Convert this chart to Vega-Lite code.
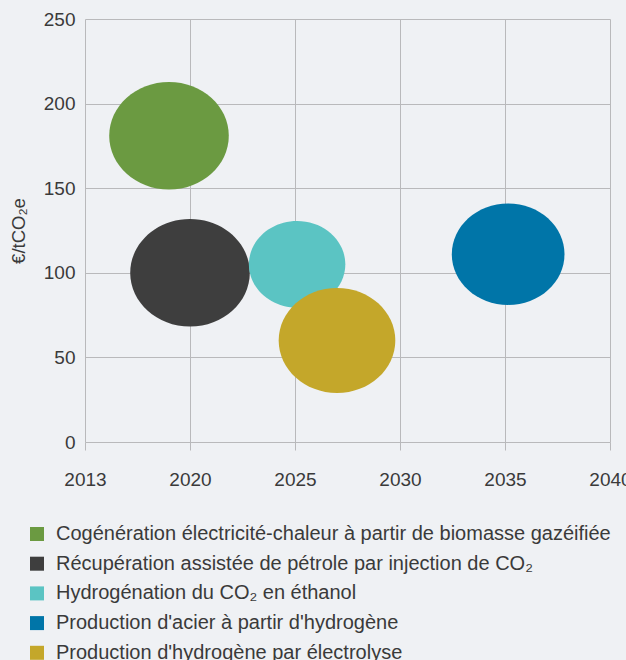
{
  "$schema": "https://vega.github.io/schema/vega-lite/v6.json",
  "width": 525,
  "height": 423,
  "autosize": {"type": "none"},
  "padding": {"left": 85, "top": 19, "right": 16, "bottom": 218},
  "background": "#eff1f4",
  "config": {
    "font": "Liberation Sans",
    "view": {"stroke": null},
    "axis": {
      "labelFont": "Liberation Sans",
      "labelFontSize": 19,
      "labelColor": "#3a3a3a",
      "labelFlush": false,
      "gridColor": "#b9b9bb",
      "gridOpacity": 1,
      "tickColor": "#b9b9bb",
      "domain": false
    }
  },
  "data": {
    "values": [
      {"technologie": "Cogénération électricité-chaleur à partir de biomasse gazéifiée", "annee": 2018.6, "cout": 181, "potentiel": 1.43},
      {"technologie": "Récupération assistée de pétrole par injection de CO₂", "annee": 2020, "cout": 100, "potentiel": 1.43},
      {"technologie": "Hydrogénation du CO₂ en éthanol", "annee": 2025.1, "cout": 105, "potentiel": 0.93},
      {"technologie": "Production d'hydrogène par électrolyse", "annee": 2027, "cout": 60, "potentiel": 1.36},
      {"technologie": "Production d'acier à partir d'hydrogène", "annee": 2035.15, "cout": 111, "potentiel": 1.27}
    ]
  },
  "mark": {
    "type": "point",
    "filled": true,
    "opacity": 1,
    "strokeWidth": 0,
    "shape": "M-1,0A1,0.9,0,1,0,1,0A1,0.9,0,1,0,-1,0Z"
  },
  "encoding": {
    "x": {
      "field": "annee",
      "type": "quantitative",
      "scale": {"domain": [2013, 2020, 2040], "range": [0, 105, 525], "nice": false, "zero": false},
      "axis": {
        "title": null,
        "values": [2013, 2020, 2025, 2030, 2035, 2040],
        "format": "d",
        "tickSize": 8,
        "labelPadding": 20,
        "labelFlush": false,
        "grid": true
      }
    },
    "y": {
      "field": "cout",
      "type": "quantitative",
      "scale": {"domain": [0, 250], "nice": false},
      "axis": {
        "title": "€/tCO₂e",
        "titleFont": "Liberation Sans",
        "titleFontSize": 18.5,
        "titleFontWeight": "normal",
        "titleColor": "#3a3a3a",
        "titleX": -67,
        "titleBaseline": "middle",
        "values": [0, 50, 100, 150, 200, 250],
        "ticks": false,
        "tickSize": 0,
        "labelPadding": 10,
        "labelFlush": false,
        "grid": true
      }
    },
    "color": {
      "field": "technologie",
      "type": "nominal",
      "scale": {
        "domain": [
          "Cogénération électricité-chaleur à partir de biomasse gazéifiée",
          "Récupération assistée de pétrole par injection de CO₂",
          "Hydrogénation du CO₂ en éthanol",
          "Production d'acier à partir d'hydrogène",
          "Production d'hydrogène par électrolyse"
        ],
        "range": ["#6b9a41", "#3e3e3e", "#5bc4c3", "#0075a8", "#c4a72a"]
      },
      "legend": {
        "title": null,
        "orient": "none",
        "legendX": -58,
        "legendY": 505,
        "padding": 0,
        "symbolType": "square",
        "symbolSize": 196,
        "symbolStrokeWidth": 0,
        "symbolOpacity": 1,
        "labelFont": "Liberation Sans",
        "labelFontSize": 20,
        "labelColor": "#3a3a3a",
        "labelLimit": 700,
        "labelOffset": 9,
        "rowPadding": 9.7
      }
    },
    "size": {
      "field": "potentiel",
      "type": "quantitative",
      "scale": {"type": "linear", "domain": [0, 1.5], "range": [0, 15000], "zero": true},
      "legend": null
    }
  }
}
